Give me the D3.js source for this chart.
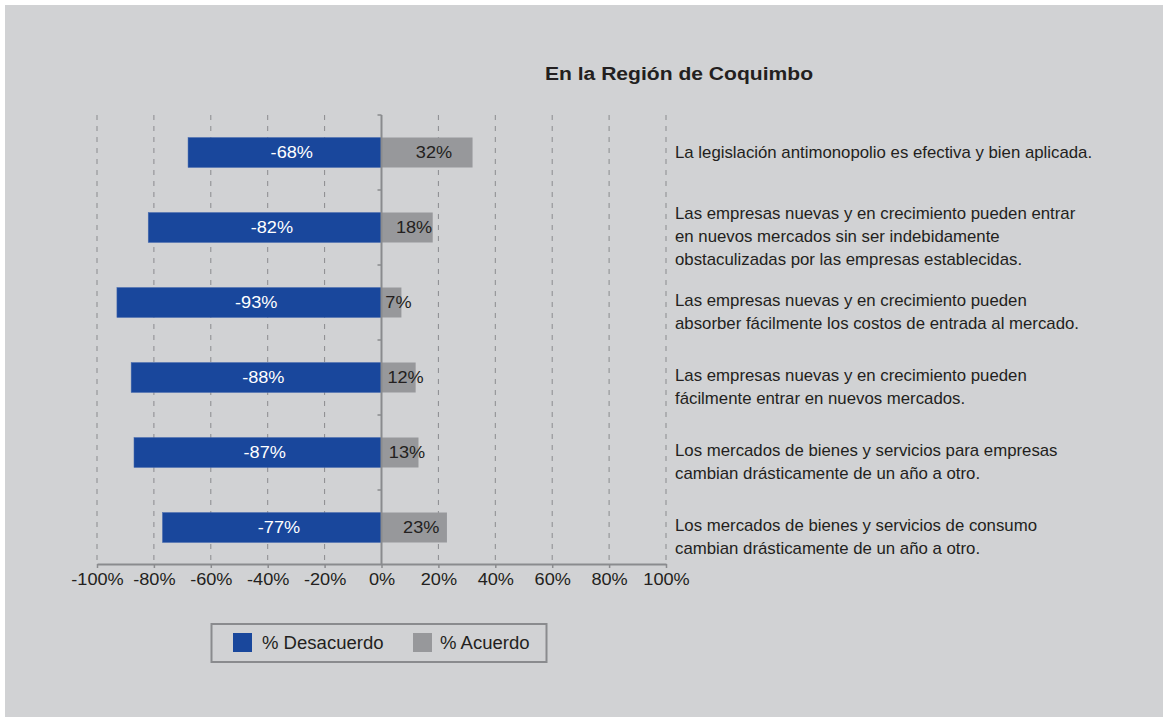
<!DOCTYPE html>
<html>
<head>
<meta charset="utf-8">
<script src="https://cdn.jsdelivr.net/npm/d3@7"></script>
<style>
  html, body { margin: 0; padding: 0; background: #ffffff; }
  svg { display: block; font-family: "Liberation Sans", Arial, Helvetica, sans-serif; }
</style>
</head>
<body>
<svg id="chart" width="1166" height="718"></svg>
<script>
const title = "En la Región de Coquimbo";
const categories = [
  ["La legislación antimonopolio es efectiva y bien aplicada."],
  ["Las empresas nuevas y en crecimiento pueden entrar", "en nuevos mercados sin ser indebidamente", "obstaculizadas por las empresas establecidas."],
  ["Las empresas nuevas y en crecimiento pueden", "absorber fácilmente los costos de entrada al mercado."],
  ["Las empresas nuevas y en crecimiento pueden", "fácilmente entrar en nuevos mercados."],
  ["Los mercados de bienes y servicios para empresas", "cambian drásticamente de un año a otro."],
  ["Los mercados de bienes y servicios de consumo", "cambian drásticamente de un año a otro."]
];
const desacuerdo = [-68, -82, -93, -88, -87, -77];
const acuerdo = [32, 18, 7, 12, 13, 23];
const tickValues = [-100, -80, -60, -40, -20, 0, 20, 40, 60, 80, 100];
const seriesNames = ["% Desacuerdo", "% Acuerdo"];
const colors = ["#19479c", "#97989b"];

const svg = d3.select("#chart");
svg.append("rect").attr("x", 5).attr("y", 5).attr("width", 1158).attr("height", 712).attr("fill", "#d1d2d4");

const x = d3.scaleLinear().domain([-100, 100]).range([97, 666]);
const y = d3.scaleBand().domain(d3.range(categories.length)).range([115, 565]).paddingInner(0.6).paddingOuter(0.3);
const yEdges = d3.scaleLinear().domain([0, categories.length]).range([115, 565]);

// horizontally widened text helper (reference glyphs are wider than Liberation Sans)
function wide(sel, sx) {
  sel.attr("transform", function() {
    const tx = +d3.select(this).attr("x");
    return `translate(${tx * (1 - sx)},0) scale(${sx},1)`;
  });
}

const t = svg.append("text").attr("x", 679).attr("y", 80).attr("text-anchor", "middle")
  .attr("font-size", 19).attr("font-weight", "bold").attr("fill", "#231f20").text(title);
wide(t, 1.11);

// gridlines
svg.append("g").selectAll("line").data(tickValues.filter(d => d !== 0)).join("line")
  .attr("x1", d => x(d)).attr("x2", d => x(d)).attr("y1", 115).attr("y2", 563)
  .attr("stroke", "#8a8b8e").attr("stroke-width", 1).attr("stroke-dasharray", "5,6");

// bars
const rows = svg.append("g").selectAll("g").data(categories.map((c, i) => ({c, i, n: desacuerdo[i], p: acuerdo[i]}))).join("g");
rows.append("rect").attr("x", d => x(d.n)).attr("y", d => y(d.i)).attr("width", d => x(0) - x(d.n)).attr("height", y.bandwidth())
  .attr("fill", colors[0]).attr("stroke", "#4a6db0").attr("stroke-width", 0.5);
rows.append("rect").attr("x", x(0)).attr("y", d => y(d.i)).attr("width", d => x(d.p) - x(0)).attr("height", y.bandwidth())
  .attr("fill", colors[1]);

const nl = rows.append("text").attr("x", d => (x(d.n) + x(0)) / 2 + 7).attr("y", d => y(d.i) + y.bandwidth() / 2)
  .attr("dy", "0.35em").attr("text-anchor", "middle").attr("font-size", 16.5).attr("fill", "#ffffff")
  .text(d => d.n + "%");
wide(nl, 1.1);
const pl = rows.append("text").attr("x", d => (x(d.p) + x(0)) / 2 + 7).attr("y", d => y(d.i) + y.bandwidth() / 2)
  .attr("dy", "0.35em").attr("text-anchor", "middle").attr("font-size", 16.5).attr("fill", "#231f20")
  .text(d => d.p + "%");
wide(pl, 1.1);

// category labels
const lh = 23;
rows.each(function(d) {
  const g = d3.select(this);
  const cy = y(d.i) + y.bandwidth() / 2;
  const n = d.c.length;
  const center = n === 1 ? cy : cy + 9;
  const start = center - (n - 1) * lh / 2;
  d.c.forEach((line, k) => {
    const tt = g.append("text").attr("x", 675).attr("y", start + k * lh).attr("dy", "0.35em")
      .attr("font-size", 16).attr("fill", "#231f20").text(line);
    wide(tt, 1.05);
  });
});

// zero line with ticks
svg.append("line").attr("x1", x(0)).attr("x2", x(0)).attr("y1", 115).attr("y2", 564)
  .attr("stroke", "#8a8b8e").attr("stroke-width", 2);
svg.append("g").selectAll("line").data(d3.range(categories.length)).join("line")
  .attr("x1", x(0) - 4).attr("x2", x(0)).attr("y1", d => yEdges(d)).attr("y2", d => yEdges(d))
  .attr("stroke", "#8a8b8e").attr("stroke-width", 1.5);

// x axis
const axis = svg.append("g").attr("transform", "translate(0,564)")
  .call(d3.axisBottom(x).tickValues(tickValues).tickFormat(d => d + "%").tickSize(4).tickSizeOuter(0));
axis.select(".domain").attr("stroke", "#8a8b8e").attr("stroke-width", 2);
axis.selectAll(".tick line").attr("stroke", "#8a8b8e").attr("stroke-width", 1.5);
const at = axis.selectAll(".tick text").attr("font-size", 16.5).attr("fill", "#231f20").attr("y", 9).attr("x", 0)
  .attr("font-family", "Liberation Sans, Arial, sans-serif");
wide(at, 1.1);

// legend
const lg = svg.append("g");
lg.append("rect").attr("x", 211.5).attr("y", 624).attr("width", 335).attr("height", 38)
  .attr("fill", "none").attr("stroke", "#8a8b8e").attr("stroke-width", 2);
const legendItems = [{name: seriesNames[0], c: colors[0], sx: 233, tx: 262}, {name: seriesNames[1], c: colors[1], sx: 413, tx: 440}];
legendItems.forEach(it => {
  lg.append("rect").attr("x", it.sx).attr("y", 633).attr("width", 19).attr("height", 19).attr("fill", it.c);
  const lt = lg.append("text").attr("x", it.tx).attr("y", 643).attr("dy", "0.35em").attr("font-size", 17.5)
    .attr("fill", "#231f20").text(it.name);
  wide(lt, 1.06);
});
</script>
</body>
</html>
